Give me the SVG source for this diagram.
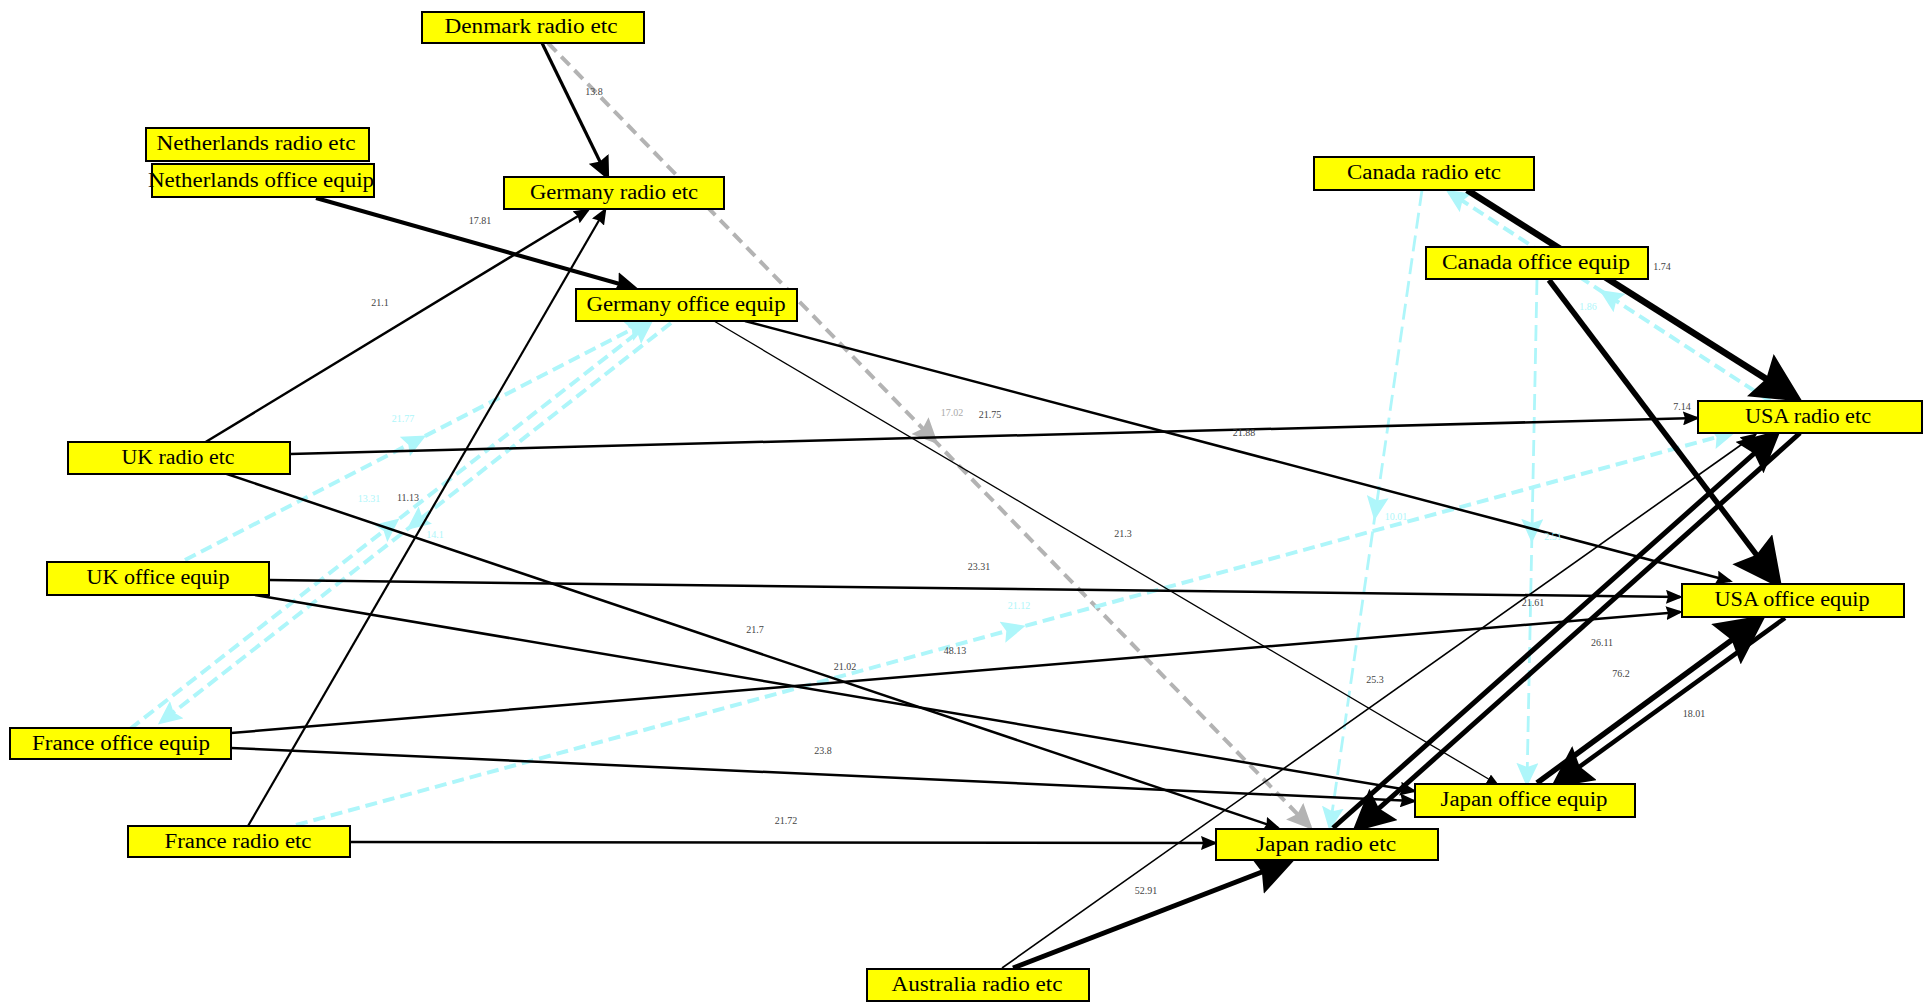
<svg xmlns="http://www.w3.org/2000/svg" width="1931" height="1003" viewBox="0 0 1931 1003">
<style>
.node rect{fill:#ffff00;stroke:#000;stroke-width:2}
.node text{font-family:"Liberation Serif",serif;font-size:20px;fill:#000;text-anchor:middle}
.e{fill:none;stroke:#000;stroke-linecap:butt}
.c{fill:none;stroke:#aef6fa;stroke-width:4;stroke-dasharray:12,6}
.cv{fill:none;stroke:#aef6fa;stroke-width:2.8;stroke-dasharray:16,7}
.g{fill:none;stroke:#b3b3b3;stroke-width:4;stroke-dasharray:12,7}
.lb{font-family:"Liberation Serif",serif;font-size:10px;fill:#444;text-anchor:middle}
.lc{font-family:"Liberation Serif",serif;font-size:10px;fill:#aef6fa;text-anchor:middle}
.lg{font-family:"Liberation Serif",serif;font-size:10px;fill:#aaa;text-anchor:middle}
</style>
<defs>
<marker id="aT" markerUnits="userSpaceOnUse" markerWidth="12" markerHeight="10" refX="10" refY="5" orient="auto"><path d="M0,0 L12,5 L0,10 z" fill="#000"/></marker>
<marker id="aS" markerUnits="userSpaceOnUse" markerWidth="17" markerHeight="14" refX="14" refY="7" orient="auto"><path d="M0,0 L17,7 L0,14 L2,7 z" fill="#000"/></marker>
<marker id="aM" markerUnits="userSpaceOnUse" markerWidth="24" markerHeight="22" refX="19" refY="11" orient="auto"><path d="M0,0 L24,11 L0,22 L3,11 z" fill="#000"/></marker>
<marker id="aL" markerUnits="userSpaceOnUse" markerWidth="42" markerHeight="42" refX="34" refY="21" orient="auto"><path d="M0,0 L42,21 L0,42 L6,21 z" fill="#000"/></marker>
<marker id="aX" markerUnits="userSpaceOnUse" markerWidth="50" markerHeight="50" refX="41" refY="25" orient="auto"><path d="M0,0 L50,25 L0,50 L7,25 z" fill="#000"/></marker>
<marker id="cE" markerUnits="userSpaceOnUse" markerWidth="24" markerHeight="22" refX="20" refY="11" orient="auto"><path d="M0,0 L24,11 L0,22 L4,11 z" fill="#aef6fa"/></marker>
<marker id="cM" markerUnits="userSpaceOnUse" markerWidth="24" markerHeight="22" refX="12" refY="11" orient="auto"><path d="M0,0 L24,11 L0,22 L4,11 z" fill="#aef6fa"/></marker>
<marker id="gE" markerUnits="userSpaceOnUse" markerWidth="26" markerHeight="24" refX="22" refY="12" orient="auto"><path d="M0,0 L26,12 L0,24 L4,12 z" fill="#b3b3b3"/></marker>
<marker id="gM" markerUnits="userSpaceOnUse" markerWidth="26" markerHeight="24" refX="13" refY="12" orient="auto"><path d="M0,0 L26,12 L0,24 L4,12 z" fill="#b3b3b3"/></marker>
</defs>
<rect width="1931" height="1003" fill="#fff"/>
<g id="connectors">
<path class="g" d="M548,43 L929,435 L1310,827" marker-mid="url(#gM)" marker-end="url(#gE)"/>
<path class="c" d="M185,560 L415.5,441 L646,322" marker-mid="url(#cM)" marker-end="url(#cE)"/>
<path class="c" d="M130,729 L390,526 L650,323" marker-mid="url(#cM)" marker-end="url(#cE)"/>
<path class="c" d="M671,323 L416,522.5 L161,722" marker-mid="url(#cM)" marker-end="url(#cE)"/>
<path class="c" d="M296,825 L1014,629 L1732,433" marker-mid="url(#cM)" marker-end="url(#cE)"/>
<path class="cv" d="M1422,190 L1376,508.5 L1330,827" marker-mid="url(#cM)" marker-end="url(#cE)"/>
<path class="cv" d="M1537,279 L1532,531 L1527,783" marker-mid="url(#cM)" marker-end="url(#cE)"/>
<path class="c" d="M1770,401 L1609.5,296.5 L1449,192" marker-mid="url(#cM)" marker-end="url(#cE)"/>
<path class="e" stroke-width="3.2" d="M542,43 L607,176" marker-end="url(#aM)"/>
<path class="e" stroke-width="4" d="M316,198 L634,288" marker-end="url(#aM)"/>
<path class="e" stroke-width="2.5" d="M204,443 L588,210" marker-end="url(#aS)"/>
<path class="e" stroke-width="2.2" d="M248,826 L605,210" marker-end="url(#aS)"/>
<path class="e" stroke-width="2.5" d="M290,454 L1697,418" marker-end="url(#aS)"/>
<path class="e" stroke-width="2.5" d="M224,473 L1278,828" marker-end="url(#aS)"/>
<path class="e" stroke-width="2.5" d="M745,321 L1730,581" marker-end="url(#aS)"/>
<path class="e" stroke-width="1.3" d="M714,321 L1497,784" marker-end="url(#aT)"/>
<path class="e" stroke-width="2.5" d="M269,580 L1680,597" marker-end="url(#aS)"/>
<path class="e" stroke-width="2.5" d="M255,595 L1414,791" marker-end="url(#aS)"/>
<path class="e" stroke-width="2.5" d="M231,733 L1680,612" marker-end="url(#aS)"/>
<path class="e" stroke-width="2.5" d="M231,748 L1414,801" marker-end="url(#aS)"/>
<path class="e" stroke-width="2.5" d="M350,842 L1215,843" marker-end="url(#aS)"/>
<path class="e" stroke-width="5" d="M1013,968 L1288,862" marker-end="url(#aL)"/>
<path class="e" stroke-width="1.6" d="M1002,968 L1755,435" marker-end="url(#aS)"/>
<path class="e" stroke-width="6.5" d="M1467,190 L1795,397" marker-end="url(#aX)"/>
<path class="e" stroke-width="5.5" d="M1549,280 L1777,582" marker-end="url(#aX)"/>
<path class="e" stroke-width="5" d="M1333,828 L1775,435" marker-end="url(#aL)"/>
<path class="e" stroke-width="5" d="M1800,433 L1358,827" marker-end="url(#aL)"/>
<path class="e" stroke-width="5.5" d="M1537,783 L1759,620" marker-end="url(#aX)"/>
<path class="e" stroke-width="4.5" d="M1785,618 L1557,783" marker-end="url(#aL)"/>
<text class="lg" x="952" y="416">17.02</text>
<text class="lc" x="403" y="422">21.77</text>
<text class="lc" x="369" y="502">13.31</text>
<text class="lc" x="435" y="538">14.1</text>
<text class="lc" x="1019" y="609">21.12</text>
<text class="lc" x="1396" y="520">10.01</text>
<text class="lc" x="1553" y="540">2.51</text>
<text class="lc" x="1588" y="310">1.86</text>
<text class="lb" x="594" y="95">13.8</text>
<text class="lb" x="480" y="224">17.81</text>
<text class="lb" x="380" y="306">21.1</text>
<text class="lb" x="408" y="501">11.13</text>
<text class="lb" x="990" y="418">21.75</text>
<text class="lb" x="755" y="633">21.7</text>
<text class="lb" x="1244" y="436">21.88</text>
<text class="lb" x="1123" y="537">21.3</text>
<text class="lb" x="979" y="570">23.31</text>
<text class="lb" x="845" y="670">21.02</text>
<text class="lb" x="955" y="654">48.13</text>
<text class="lb" x="823" y="754">23.8</text>
<text class="lb" x="786" y="824">21.72</text>
<text class="lb" x="1146" y="894">52.91</text>
<text class="lb" x="1375" y="683">25.3</text>
<text class="lb" x="1662" y="270">1.74</text>
<text class="lb" x="1682" y="410">7.14</text>
<text class="lb" x="1533" y="606">21.61</text>
<text class="lb" x="1602" y="646">26.11</text>
<text class="lb" x="1621" y="677">76.2</text>
<text class="lb" x="1694" y="717">18.01</text>
</g>
<g id="n-denmark-radio" class="node"><rect x="422" y="12" width="222" height="31"/><text x="531" y="33" textLength="173" lengthAdjust="spacingAndGlyphs">Denmark radio etc</text></g>
<g id="n-netherlands-radio" class="node"><rect x="146" y="128" width="223" height="33"/><text x="256" y="150" textLength="199" lengthAdjust="spacingAndGlyphs">Netherlands radio etc</text></g>
<g id="n-netherlands-office" class="node"><rect x="152" y="164" width="222" height="33"/><text x="261" y="187" textLength="226" lengthAdjust="spacingAndGlyphs">Netherlands office equip</text></g>
<g id="n-germany-radio" class="node"><rect x="504" y="177" width="220" height="32"/><text x="614" y="199" textLength="168" lengthAdjust="spacingAndGlyphs">Germany radio etc</text></g>
<g id="n-germany-office" class="node"><rect x="576" y="289" width="221" height="32"/><text x="686" y="311" textLength="199" lengthAdjust="spacingAndGlyphs">Germany office equip</text></g>
<g id="n-canada-radio" class="node"><rect x="1314" y="157" width="220" height="33"/><text x="1424" y="179" textLength="154" lengthAdjust="spacingAndGlyphs">Canada radio etc</text></g>
<g id="n-canada-office" class="node"><rect x="1426" y="247" width="222" height="32"/><text x="1536" y="269" textLength="188" lengthAdjust="spacingAndGlyphs">Canada office equip</text></g>
<g id="n-uk-radio" class="node"><rect x="68" y="442" width="222" height="32"/><text x="178" y="464" textLength="113" lengthAdjust="spacingAndGlyphs">UK radio etc</text></g>
<g id="n-uk-office" class="node"><rect x="47" y="562" width="222" height="33"/><text x="158" y="584" textLength="143" lengthAdjust="spacingAndGlyphs">UK office equip</text></g>
<g id="n-usa-radio" class="node"><rect x="1698" y="401" width="224" height="32"/><text x="1808" y="423" textLength="126" lengthAdjust="spacingAndGlyphs">USA radio etc</text></g>
<g id="n-usa-office" class="node"><rect x="1682" y="584" width="222" height="33"/><text x="1792" y="606" textLength="155" lengthAdjust="spacingAndGlyphs">USA office equip</text></g>
<g id="n-france-office" class="node"><rect x="10" y="728" width="221" height="31"/><text x="121" y="750" textLength="178" lengthAdjust="spacingAndGlyphs">France office equip</text></g>
<g id="n-france-radio" class="node"><rect x="128" y="826" width="222" height="31"/><text x="238" y="848" textLength="147" lengthAdjust="spacingAndGlyphs">France radio etc</text></g>
<g id="n-japan-office" class="node"><rect x="1415" y="784" width="220" height="33"/><text x="1524" y="806" textLength="167" lengthAdjust="spacingAndGlyphs">Japan office equip</text></g>
<g id="n-japan-radio" class="node"><rect x="1216" y="829" width="222" height="31"/><text x="1326" y="851" textLength="140" lengthAdjust="spacingAndGlyphs">Japan radio etc</text></g>
<g id="n-australia-radio" class="node"><rect x="867" y="969" width="222" height="32"/><text x="977" y="991" textLength="171" lengthAdjust="spacingAndGlyphs">Australia radio etc</text></g>
</svg>
